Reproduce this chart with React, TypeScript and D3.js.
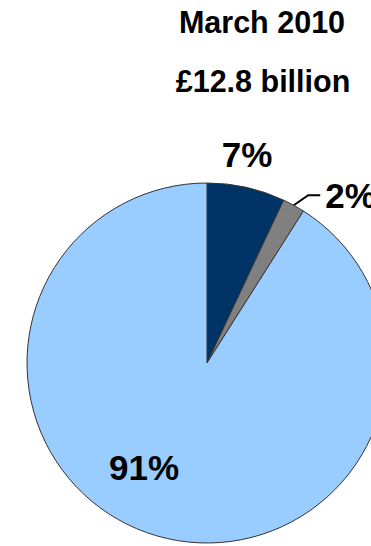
import React from "react";
import * as d3 from "d3";

const categories = ["Category A", "Category B", "Category C"];
const values = [7, 2, 91];
const labels = ["7%", "2%", "91%"];
const colors = ["#003366", "#808080", "#99CCFF"];
const titleLines = ["March 2010", "£12.8 billion"];

const W = 371;
const H = 546;
const cx = 207;
const cy = 363;
const R = 180;

export default function App() {
  const pie = d3.pie<number>().sort(null).value((d) => d)(values);
  const arc = d3.arc<d3.PieArcDatum<number>>().innerRadius(0).outerRadius(R);
  const pt = (angle: number, r: number) => [r * Math.sin(angle), -r * Math.cos(angle)];

  const a0 = pie[0];
  const a1 = pie[1];
  const a2 = pie[2];
  const mid = (d: d3.PieArcDatum<number>) => (d.startAngle + d.endAngle) / 2;

  const l0 = pt(mid(a0) - 0.03, 212);
  const e1s = pt(mid(a1), R);
  const e1m = pt(mid(a1) + 0.04, 196);
  const l2 = pt(mid(a2) + 0.26, 122);

  return (
    <svg
      width={W}
      height={H}
      style={{ position: "absolute", left: 0, top: 0 }}
      fontFamily="'Liberation Sans', Arial, sans-serif"
    >
      <rect width={W} height={H} fill="#ffffff" />
      <text x={262} y={33} textAnchor="middle" fontWeight="bold" fontSize={30.5} fill="#000">
        {titleLines[0]}
      </text>
      <text x={263} y={92} textAnchor="middle" fontWeight="bold" fontSize={30.5} fill="#000">
        {titleLines[1]}
      </text>
      <g transform={`translate(${cx},${cy})`}>
        {pie.map((d, i) => (
          <path key={categories[i]} d={arc(d) || ""} fill={colors[i]} stroke="#333333" strokeWidth={1} />
        ))}
        <text x={l0[0]} y={l0[1]} textAnchor="middle" dominantBaseline="central" fontWeight="bold" fontSize={35} fill="#000">
          {labels[0]}
        </text>
        <polyline
          points={`${e1s[0]},${e1s[1]} ${e1m[0]},${e1m[1]} ${e1m[0] + 12},${e1m[1]}`}
          fill="none"
          stroke="#000"
          strokeWidth={2}
        />
        <text x={e1m[0] + 17} y={e1m[1]} dominantBaseline="central" fontWeight="bold" fontSize={35} fill="#000">
          {labels[1]}
        </text>
        <text x={l2[0]} y={l2[1]} textAnchor="middle" dominantBaseline="central" fontWeight="bold" fontSize={35} fill="#000">
          {labels[2]}
        </text>
      </g>
    </svg>
  );
}
